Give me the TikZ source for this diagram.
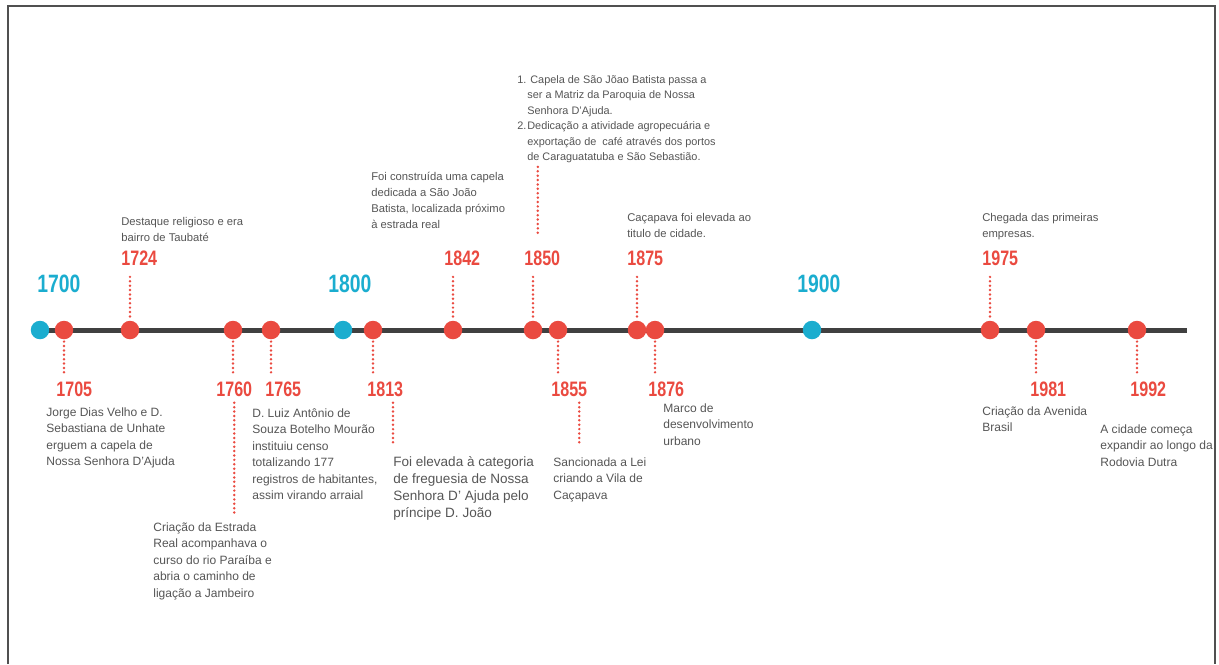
\documentclass[tikz,border=0pt]{standalone}
\usepackage{fontspec}
\setmainfont{Liberation Sans}
\newfontfamily\yearfont[FakeStretch=0.77]{Liberation Sans}

\definecolor{tlred}{HTML}{EA4A40}
\definecolor{tlblue}{HTML}{1BADCF}
\definecolor{tltext}{HTML}{555555}
\definecolor{tlline}{HTML}{404040}
\definecolor{tlframe}{HTML}{505050}

\begin{document}
\begin{tikzpicture}[x=0.02cm,y=-0.02cm,
    dot/.style={circle,inner sep=0pt,minimum size=0.37cm},
    year/.style={anchor=west,inner sep=0pt,text=tlred,font=\yearfont\bfseries\fontsize{11.9}{12}\selectfont},
    century/.style={year,text=tlblue,font=\yearfont\bfseries\fontsize{14.3}{15}\selectfont},
    tick/.style={tlred,line width=1.55pt,dash pattern=on 0pt off 2.5pt,line cap=round},
    desc/.style={anchor=north west,inner sep=0pt,align=left,text=tltext,font=\fontsize{6.85}{9.4}\selectfont},
    upper/.style={desc,font=\fontsize{6.4}{9.1}\selectfont}]

\useasboundingbox (0,0) rectangle (1219,664);

% draw frame
\draw[tlframe,line width=0.04cm] (8,664) -- (8,6) -- (1215,6) -- (1215,664);

% draw timeline
\coordinate (tstart) at (40,330);
\coordinate (tend) at (1187,330);
\draw[tlline,line width=0.1cm] (tstart) -- (tend);

% draw points
\foreach \yr/\xx/\cc in {1700/40/tlblue,1705/64/tlred,1724/130/tlred,1760/233/tlred,
    1765/271/tlred,1800/343/tlblue,1813/373/tlred,1842/453/tlred,1850/533/tlred,
    1855/558/tlred,1875/637/tlred,1876/655/tlred,1900/812/tlblue,1975/990/tlred,
    1981/1036/tlred,1992/1137/tlred}
  \node[dot,fill=\cc] (d\yr) at (\xx,330) {};

% years
\node[century] (l1700) at (37,284) {1700};
\node[century] (l1800) at (328,284) {1800};
\node[century] (l1900) at (797,284) {1900};
\foreach \yr/\xx in {1724/121,1842/444,1850/524,1875/627,1975/982}
  \node[year] (l\yr) at (\xx,258) {\yr};
\foreach \yr/\xx in {1705/56,1760/216,1765/265,1813/367,1855/551,1876/648,1981/1030,1992/1130}
  \node[year] (l\yr) at (\xx,389) {\yr};

% dotted ticks
\foreach \yr in {1724,1842,1850,1875,1975}
  \draw[tick,shorten <=0.08cm,shorten >=0.21cm] (d\yr) -- (d\yr |- l\yr.south);
\foreach \yr in {1705,1760,1765,1813,1855,1876,1981,1992}
  \draw[tick,shorten <=0.04cm,shorten >=0.15cm] (d\yr) -- (d\yr |- l\yr.north);

% texts above
\node[upper] (t1724) at (121,217) {Destaque religioso e era\\bairro de Taubaté};
\node[upper] (t1842) at (371,172) {Foi construída uma capela\\dedicada a São João\\Batista, localizada próximo\\à estrada real};
\node[upper,font=\fontsize{6.2}{8.8}\selectfont] (t1850) at (517,75)
  {\makebox[0.2cm][l]{1.}\hspace{0.06cm}Capela de São Jõao Batista passa a\\
   \hspace*{0.2cm}ser a Matriz da Paroquia de Nossa\\
   \hspace*{0.2cm}Senhora D'Ajuda.\\
   \makebox[0.2cm][l]{2.}Dedicação a atividade agropecuária e\\
   \hspace*{0.2cm}exportação de\ \ café através dos portos\\
   \hspace*{0.2cm}de Caraguatatuba e São Sebastião.};
\node[upper] (t1875) at (627,213) {Caçapava foi elevada ao\\titulo de cidade.};
\node[upper] (t1975) at (982,213) {Chegada das primeiras\\empresas.};

% texts below
\node[desc] (t1705) at (46,407) {Jorge Dias Velho e D.\\Sebastiana de Unhate\\erguem a capela de\\Nossa Senhora D'Ajuda};
\node[desc] (t1760) at (153,522) {Criação da Estrada\\Real acompanhava o\\curso do rio Paraíba e\\abria o caminho de\\ligação a Jambeiro};
\node[desc] (t1765) at (252,408) {D. Luiz Antônio de\\Souza Botelho Mourão\\instituiu censo\\totalizando 177\\registros de habitantes,\\assim virando arraial};
\node[desc,font=\fontsize{7.7}{9.7}\selectfont] (t1813) at (393,456) {Foi elevada à categoria\\de freguesia de Nossa\\Senhora D' Ajuda pelo\\príncipe D. João};
\node[desc] (t1855) at (553,457) {Sancionada a Lei\\criando a Vila de\\Caçapava};
\node[desc] (t1876) at (663,403) {Marco de\\desenvolvimento\\urbano};
\node[desc] (t1981) at (982,406) {Criação da Avenida\\Brasil};
\node[desc] (t1992) at (1100,424) {A cidade começa\\expandir ao longo da\\Rodovia Dutra};

% second ticks
\draw[tick,shorten <=0.35cm,shorten >=0.06cm] ([xshift=-0.09cm]l1850.north) -- ([xshift=-0.09cm]l1850.north |- t1850.south);
\draw[tick,shorten <=0.12cm,shorten >=0.18cm] (l1760.south) -- (l1760.south |- t1760.north);
\draw[tick,shorten <=0.12cm,shorten >=0.26cm] (l1813.south -| t1813.west) -- (t1813.north west);
\draw[tick,shorten <=0.12cm,shorten >=0.28cm] ([xshift=0.2cm]l1855.south) -- ([xshift=0.2cm]l1855.south |- t1855.north);

\end{tikzpicture}
\end{document}
